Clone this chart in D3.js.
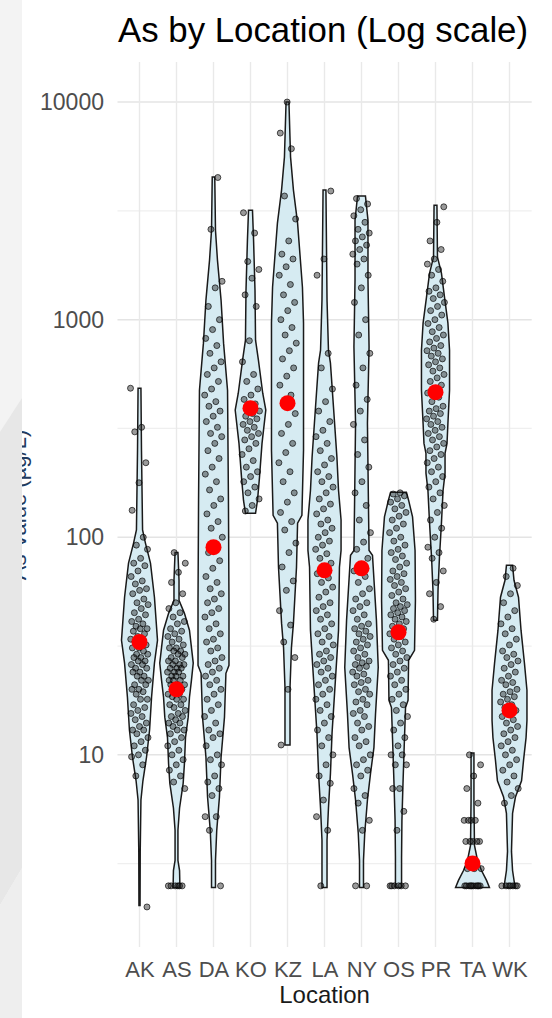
<!DOCTYPE html>
<html><head><meta charset="utf-8">
<script src="https://cdn.jsdelivr.net/npm/d3@7"></script>
<style>html,body{margin:0;padding:0;background:#fff;}svg{display:block;}</style>
</head><body><svg id="c" width="552" height="1018"></svg>
<script>
// ---------- data ----------
const categories = ["AK","AS","DA","KO","KZ","LA","NY","OS","PR","TA","WK"];
const yTicks = [10, 100, 1000, 10000];
const yMinor = [3.162, 31.62, 316.2, 3162];
const centerValues = [33, 20, 90, 392, 413, 70.5, 72, 36.6, 464, 3.17, 16];

// violin outlines: [value, relative density]
const profileAK = [[484,.08],[251,.11],[108,.17],[94,.33],[76,.61],[53,.83],[33.6,1.0],[26.4,.83],[18.4,.67],[13,.56],[9.75,.39],[7.6,.19],[6.2,.08],[3.6,.04],[2.03,.03]];
const profileAS = [[85,.08],[63.4,.14],[51.3,.14],[44.7,.44],[37.4,.72],[26.4,.93],[22,.83],[18.4,.72],[14.9,.65],[12,.5],[9.1,.44],[7.4,.37],[5.7,.17],[4.5,.08],[3.27,.08],[2.94,.17],[2.46,.19]];
const profileDA = [[4520,.07],[2576,.11],[1878,.22],[1230,.42],[780,.56],[474,.78],[148,.83],[51.3,.86],[25.8,.86],[23.7,.69],[14.9,.61],[9.75,.42],[6.4,.33],[4.5,.18],[3.27,.11],[2.46,.11]];
const profileKO = [[3186,.11],[2321,.17],[1366,.25],[805,.28],[651,.44],[459,.68],[384,.85],[270,.64],[189,.5],[148,.39],[129,.28]];
const profileKZ = [[10000,.08],[5585,.17],[3939,.33],[2778,.56],[1410,.83],[964,.89],[251,.89],[126,.8],[116,.56],[72.8,.5],[40.3,.33],[31.2,.22],[20.4,.14],[11.1,.14]];
const profileLA = [[3939,.08],[1230,.14],[724,.22],[631,.33],[396,.5],[233,.69],[164,.78],[120,.92],[87,.92],[72.8,.83],[37.4,.78],[19.2,.56],[12.6,.42],[8.2,.33],[5.7,.22],[4.05,.14],[2.46,.14]];
const profileNY = [[3698,.22],[2866,.36],[1520,.36],[748,.42],[334,.33],[133,.39],[87,.42],[82.6,.61],[41.5,.83],[25.2,.93],[15.5,.78],[10.8,.69],[8.2,.5],[6.2,.33],[4.36,.18],[3.27,.11],[2.46,.11]];
const profileOS = [[161,.44],[148,.56],[124,.78],[87,.92],[51.3,.94],[30.2,.89],[27.2,.56],[17.8,.53],[16.5,.39],[10.5,.31],[7.4,.25],[5.0,.19],[3.38,.17],[2.46,.17]];
const profilePR = [[3357,.08],[1938,.11],[1637,.33],[1268,.5],[964,.69],[724,.78],[474,.78],[334,.69],[270,.64],[243,.53],[197,.53],[164,.42],[116,.33],[80.9,.22],[57,.14],[41.5,.11]];
const profileTA = [[10.2,.08],[6.2,.08],[3.84,.11],[3.27,.28],[2.94,.5],[2.65,.78],[2.46,.94]];
const profileWK = [[74.3,.17],[63.4,.25],[53,.5],[37.4,.64],[26.4,.83],[19.8,.97],[14.4,.97],[12,.92],[9.44,.78],[7.6,.67],[6.4,.33],[5.38,.17],[3.6,.11],[2.94,.17],[2.46,.31]];

// observations
const pointsAK = [484,320,305,220,178,133,100,92,88,80,76,74,70,66,63,61,58,57,55,52,50,49,47,45,44,42,41,40,39,38,38,37,36,35,34,34,33,32,31,31,30,29,29,28,28,27,27,26,26,25,25,24,24,23,23,22,22,21,21,20,20,19.5,19,18,18,17,16.5,16,15.5,15,14.5,14,13.5,13,13,12.5,12,11.5,11,10.5,10,9.8,9,8,2.0];
const pointsAS = [85,76,69,62,55,50,47,45,43,41,40,38,37,36,35,34,33,32,31,31,30,30,29,29,28,28,27,27,26,26,26,25,25,25,24,24,24,23,23,23,22,22,22,21,21,21,20,20,19,19,18.5,18,18,17,17,16.5,16,15.5,15,15,14.5,14,14,13.5,13,13,12.5,12,11.5,11,10.5,10,9.5,9,8.5,8,7.5,7,2.5,2.5,2.5,2.5,2.5,2.5];
const pointsDA = [4500,2600,1500,1400,1150,1000,900,820,760,700,640,600,560,520,480,450,420,400,380,360,340,320,300,290,270,250,230,210,195,180,165,150,140,128,118,110,100,92,85,78,72,66,62,58,55,52,50,47,45,43,40,38,36,34,33,31,30,28,27,26,25,24,23,22,21,20,19,18,17,16,15,14,13,12.5,12,11,10,9.5,9,8,7.5,7,6.5,5.2,5.2,4.5,2.5];
const pointsKO = [3100,2500,1850,1700,1550,1300,1150,800,640,560,520,480,450,430,410,395,380,370,360,350,340,330,320,310,300,290,280,270,255,240,225,210,200,190,180,170,160,150,140,132];
const pointsKZ = [10000,7200,6100,3700,2900,2300,2000,1900,1750,1600,1450,1300,1200,1100,1000,920,850,780,720,660,600,550,500,450,410,370,330,300,270,245,220,200,180,160,145,130,118,108,94,85,73,63,57,46,39.5,33,28,20,11.1];
const pointsLA = [3900,1900,1600,700,600,480,420,380,340,310,290,270,250,230,215,200,190,180,170,160,150,142,135,128,120,115,110,105,100,96,92,88,84,80,76,72,68,65,62,59,56,53,50,48,46,44,42,40,38,36,35,33,32,30,29,28,27,26,25,24,23,22,21,20,19,18,17,16,15,14,13,12,11,10,9,8,7.4,6.2,5.2,4.5,2.5];
const pointsNY = [3600,3400,3200,3000,2800,2600,2500,2400,2300,2200,2100,2000,1900,1800,1600,1400,1200,1000,850,700,600,500,430,380,330,280,240,210,180,160,140,120,105,95,88,80,75,70,66,62,58,55,52,50,48,46,44,42,40,39,38,37,36,35,34,33,32,31,30,29,28,27,26.5,26,25.5,25,24,23.5,23,22,21.5,21,20,19.5,19,18,17.5,17,16,15.5,15,14,13.5,13,12,11.5,11,10,9.5,9,8.5,8,7,6.5,6,5,4.5,2.5,2.5];
const pointsOS = [160,158,155,150,145,140,135,130,125,120,115,110,105,100,96,92,88,85,82,79,76,73,70,68,66,64,62,60,58,56,54,52,50,49,48,47,46,45,44,43,42,41,40,39,38,37,36,35,34,33,32,31,30,29,28,27,26,25,24,23,22,21,20,19,18,17,16,15,14,13,12,11,10,10,9,9,7,7,5.5,4.5,2.5,2.5,2.5,2.5,2.5,2.5];
const pointsPR = [3300,2800,2300,2100,1900,1800,1700,1600,1500,1400,1350,1300,1250,1200,1150,1100,1050,1000,960,920,880,850,820,790,760,740,720,700,680,660,640,620,600,580,560,540,520,500,480,460,440,420,400,390,380,370,360,350,340,330,320,310,300,290,280,270,260,250,240,230,220,210,200,190,180,170,160,150,140,130,120,110,100,90,85,80,70,62,55,48,42];
const pointsTA = [10,9,8,7,6,5,5,5,5,4,4,4,4,4,3,3,3,2.5,2.5,2.5,2.5,2.5,2.5,2.5,2.5,2.5,2.5];
const pointsWK = [72,66,60,55,50,46,43,40,38,36,34,32,30,29,28,27,26,25,24,23,22,21.5,21,20,19.5,19,18.5,18,17.5,17,16.5,16,15.5,15,14.5,14,13.5,13,12.5,12,11.5,11,10.5,10,9.5,9,8.5,8,7.5,7,6.5,6,2.5,2.5,2.5,2.5,2.5,2.5,2.5];

const profiles = [profileAK,profileAS,profileDA,profileKO,profileKZ,profileLA,profileNY,profileOS,profilePR,profileTA,profileWK];
const pointSets = [pointsAK,pointsAS,pointsDA,pointsKO,pointsKZ,pointsLA,pointsNY,pointsOS,pointsPR,pointsTA,pointsWK];
const table = categories.map((c,i)=>({cat:c, profile:profiles[i], points:pointSets[i], center:centerValues[i]}));

// ---------- layout ----------
const W = 552, H = 1018;
const panel = {left:117.5, right:531.7, top:62, bottom:947};
const FONT = "'Liberation Sans', Arial, Helvetica, sans-serif";
const svg = d3.select("#c");

const x = d3.scalePoint().domain(categories).range([139.5, 509.5]);
const y = d3.scaleLog().domain([Math.pow(10,0.117), Math.pow(10,4.184)]).range([panel.bottom, panel.top]);
const w = d3.scaleLinear().domain([0,1]).range([0,18]);

svg.append("rect").attr("width",W).attr("height",H).attr("fill","#fff");

// grid
const grid = svg.append("g");
grid.selectAll("line.minor").data(yMinor).join("line")
  .attr("x1",panel.left).attr("x2",panel.right)
  .attr("y1",d=>y(d)).attr("y2",d=>y(d))
  .attr("stroke","#efefef").attr("stroke-width",1.2);
grid.selectAll("line.major").data(yTicks).join("line")
  .attr("x1",panel.left).attr("x2",panel.right)
  .attr("y1",d=>y(d)).attr("y2",d=>y(d))
  .attr("stroke","#e4e4e4").attr("stroke-width",1.5);
grid.selectAll("line.v").data(categories).join("line")
  .attr("x1",d=>x(d)).attr("x2",d=>x(d))
  .attr("y1",panel.top).attr("y2",panel.bottom)
  .attr("stroke","#e9e9e9").attr("stroke-width",1.4);

// violins
const area = d3.area()
  .y(d=>y(d[0]))
  .curve(d3.curveLinear);
svg.append("g").selectAll("path").data(table).join("path")
  .attr("d", d => area.x0(p=>x(d.cat)-w(p[1])).x1(p=>x(d.cat)+w(p[1]))(d.profile))
  .attr("fill","#d6ebf2").attr("stroke","#1a1a1a").attr("stroke-width",1.5)
  .attr("stroke-linejoin","miter");

// jittered points
const pts = svg.append("g");
table.forEach((d,k)=>{
  pts.selectAll(null).data(d.points).join("circle")
    .attr("cx",(v,i)=>x(d.cat) + (((i*0.618034 + k*0.37) % 1) - 0.5) * 18)
    .attr("cy",v=>y(v))
    .attr("r",3)
    .attr("fill","rgba(30,30,30,0.45)")
    .attr("stroke","rgba(0,0,0,0.65)")
    .attr("stroke-width",1);
});

// centre markers
svg.append("g").selectAll("circle").data(table).join("circle")
  .attr("cx",d=>x(d.cat)).attr("cy",d=>y(d.center))
  .attr("r",8).attr("fill","#ff0000");

// axes
const yAxis = svg.append("g").attr("transform",`translate(${panel.left},0)`)
  .call(d3.axisLeft(y).tickValues(yTicks).tickFormat(d3.format("d")).tickSize(0).tickPadding(13.5));
yAxis.select(".domain").remove();
yAxis.selectAll("text").attr("font-family",FONT).attr("font-size",23).attr("fill","#4d4d4d");

const xAxis = svg.append("g").attr("transform",`translate(0,${panel.bottom})`)
  .call(d3.axisBottom(x).tickSize(0).tickPadding(14.4));
xAxis.select(".domain").remove();
xAxis.selectAll("text").attr("font-family",FONT).attr("font-size",22).attr("fill","#4d4d4d");

// titles
svg.append("text").attr("x",118).attr("y",42)
  .attr("font-family",FONT).attr("font-size",34.8).attr("fill","#000")
  .text("As by Location (Log scale)");
svg.append("text").attr("x",(panel.left+panel.right)/2).attr("y",1003)
  .attr("text-anchor","middle").attr("font-family",FONT).attr("font-size",24).attr("fill","#1a1a1a")
  .text("Location");
svg.append("text").attr("transform","translate(26,505) rotate(-90)")
  .attr("text-anchor","middle").attr("font-family",FONT).attr("font-size",22).attr("fill","#223a5e")
  .text("As Value (µg/L)");

// left overlay strip
const strip = svg.append("g");
strip.append("rect").attr("x",0).attr("y",0).attr("width",22).attr("height",H).attr("fill","#f3f3f3");
strip.append("path").attr("d","M0,432L22,398L22,868L0,905Z").attr("fill","#e7e7e7");
strip.append("path").attr("d","M0,905L22,868L22,1018L0,1018Z").attr("fill","#eeeeee");
</script></body></html>
